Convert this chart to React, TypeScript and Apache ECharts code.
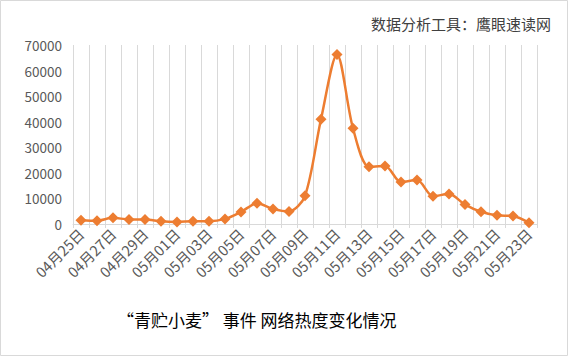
import React, { useEffect, useRef } from "react";
import * as echarts from "echarts";

const categories = [
  "04月25日", "04月26日", "04月27日", "04月28日", "04月29日", "04月30日",
  "05月01日", "05月02日", "05月03日", "05月04日", "05月05日", "05月06日",
  "05月07日", "05月08日", "05月09日", "05月10日", "05月11日", "05月12日",
  "05月13日", "05月14日", "05月15日", "05月16日", "05月17日", "05月18日",
  "05月19日", "05月20日", "05月21日", "05月22日", "05月23日",
];
const heatValues = [
  1500, 1300, 2400, 1800, 1800, 1050, 800, 1100, 1100, 2000, 4700, 8100,
  5900, 4900, 11000, 41000, 66300, 37400, 22400, 22700, 16400, 17200,
  10900, 11700, 7600, 4800, 3400, 3100, 500,
];
const yTicks = { min: 0, max: 70000, interval: 10000 };
const titleText = "“青贮小麦” 事件 网络热度变化情况";
const sourceText = "数据分析工具：鹰眼速读网";

export default function App() {
  const ref = useRef<HTMLDivElement>(null);
  useEffect(() => {
    document.body.style.margin = "0";
    const chart = echarts.init(ref.current!, undefined, { renderer: "svg" });
    const font = "'Noto Sans CJK SC', 'Noto Sans', sans-serif";
    chart.setOption({
      animation: false,
      backgroundColor: "#fff",
      textStyle: { fontFamily: font },
      grid: { left: 73, right: 32, top: 45, bottom: 133, containLabel: false },
      xAxis: {
        type: "category",
        data: categories,
        boundaryGap: true,
        axisLine: { lineStyle: { color: "#d9d9d9", width: 1 } },
        axisTick: { show: true, interval: 0, length: 4, lineStyle: { color: "#d9d9d9" } },
        splitLine: { show: true, interval: 0, lineStyle: { color: "#d9d9d9", width: 1 } },
        axisLabel: {
          interval: 1,
          rotate: 45,
          color: "#595959",
          fontSize: 14.5,
          fontFamily: font,
          margin: 7,
        },
      },
      yAxis: {
        type: "value",
        min: yTicks.min,
        max: yTicks.max,
        interval: yTicks.interval,
        axisLine: { show: false },
        axisTick: { show: false },
        splitLine: { show: false },
        axisLabel: {
          color: "#595959",
          fontSize: 13.5,
          fontFamily: font,
          margin: 11,
          formatter: (v: number) => String(v),
        },
      },
      series: [
        {
          type: "line",
          data: heatValues,
          smooth: 0.3,
          showAllSymbol: true,
          symbol: "diamond",
          symbolSize: 11,
          itemStyle: { color: "#ED7D31" },
          lineStyle: { color: "#ED7D31", width: 2.5 },
        },
      ],
      graphic: [
        {
          type: "rect",
          shape: { x: 0.5, y: 0.5, width: 567, height: 355 },
          style: { fill: "none", stroke: "#d9d9d9", lineWidth: 1 },
        },
        {
          type: "text",
          x: 551,
          y: 23,
          style: {
            text: sourceText,
            fill: "#404040",
            font: `15px ${font}`,
            textAlign: "right",
            textVerticalAlign: "middle",
          },
        },
        {
          type: "text",
          x: 117,
          y: 319,
          style: {
            text: titleText,
            fill: "#000",
            font: `17px ${font}`,
            textAlign: "left",
            textVerticalAlign: "middle",
          },
        },
      ],
    });
    return () => chart.dispose();
  }, []);
  return <div ref={ref} style={{ width: 569, height: 357 }} />;
}
